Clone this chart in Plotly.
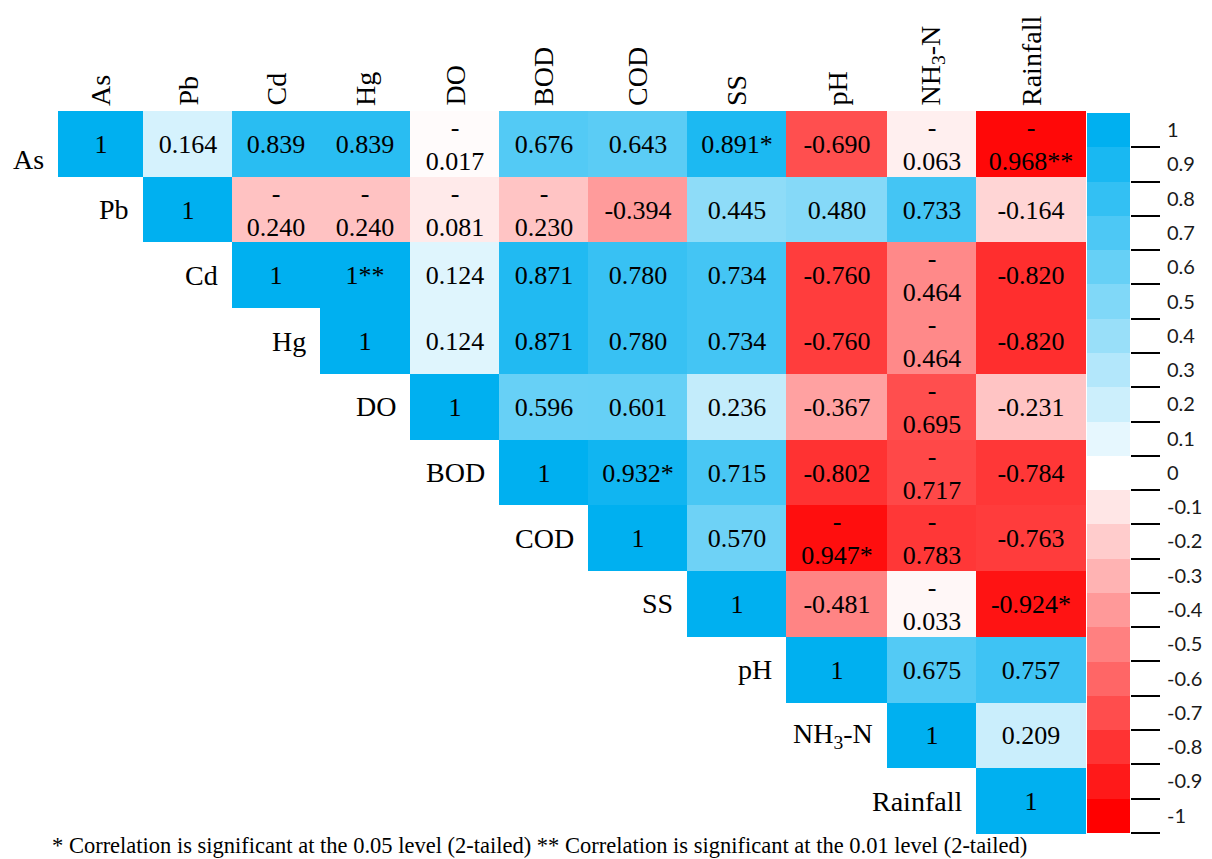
import plotly.graph_objects as go

# ---------------- data ----------------
VARIABLES = ["As", "Pb", "Cd", "Hg", "DO", "BOD", "COD", "SS", "pH",
             "NH<sub>3</sub>-N", "Rainfall"]

# upper-triangle rows (starting at the diagonal)
R_AS = [1, 0.164, 0.839, 0.839, -0.017, 0.676, 0.643, 0.891, -0.690, -0.063, -0.968]
R_PB = [1, -0.240, -0.240, -0.081, -0.230, -0.394, 0.445, 0.480, 0.733, -0.164]
R_CD = [1, 1, 0.124, 0.871, 0.780, 0.734, -0.760, -0.464, -0.820]
R_HG = [1, 0.124, 0.871, 0.780, 0.734, -0.760, -0.464, -0.820]
R_DO = [1, 0.596, 0.601, 0.236, -0.367, -0.695, -0.231]
R_BOD = [1, 0.932, 0.715, -0.802, -0.717, -0.784]
R_COD = [1, 0.570, -0.947, -0.783, -0.763]
R_SS = [1, -0.481, -0.033, -0.924]
R_PH = [1, 0.675, 0.757]
R_NH3 = [1, 0.209]
R_RAIN = [1]
ROWS = [R_AS, R_PB, R_CD, R_HG, R_DO, R_BOD, R_COD, R_SS, R_PH, R_NH3, R_RAIN]

# significance marks: (row index, column index) -> stars
SIGNIFICANCE = {(0, 7): "*", (0, 10): "**", (2, 3): "**", (5, 6): "*",
                (6, 8): "*", (7, 10): "*"}

COLORBAR_STEPS = [1, 0.9, 0.8, 0.7, 0.6, 0.5, 0.4, 0.3, 0.2, 0.1, 0,
                  -0.1, -0.2, -0.3, -0.4, -0.5, -0.6, -0.7, -0.8, -0.9, -1]
COLORBAR_LABELS = ["1", "0.9", "0.8", "0.7", "0.6", "0.5", "0.4", "0.3", "0.2", "0.1", "0",
                   "-0.1", "-0.2", "-0.3", "-0.4", "-0.5", "-0.6", "-0.7", "-0.8", "-0.9", "-1"]

FOOTNOTE = ("* Correlation is significant at the 0.05 level (2-tailed) "
            "** Correlation is significant at the 0.01 level (2-tailed)")

# ---------------- layout constants (page pixels) ----------------
W, H = 1212, 859
OFF = 8  # page body margin
COL_EDGES = [58, 143, 232, 320, 410, 499, 588, 687, 786, 887, 976, 1086]
ROW_TOP, ROW_BOTTOM = 111, 834
CB_X0, CB_X1, CB_Y0, CB_Y1 = 1087, 1130, 113, 833
SERIF = "Liberation Serif"
CELL_FONT = 26
LABEL_FONT = 28
COLORSCALE = [[0.0, "#ff0000"], [0.5, "#ffffff"], [1.0, "#00b0f0"]]

n = len(VARIABLES)
row_h = (ROW_BOTTOM - ROW_TOP) / n
ROW_EDGES = [ROW_TOP + i * row_h for i in range(n + 1)]
col_w = [COL_EDGES[j + 1] - COL_EDGES[j] for j in range(n)]


def fmt(v):
    return "1" if v == 1 else f"{v:.3f}"


z, text = [], []
for i in range(n):
    zr, tr = [], []
    for j in range(n):
        if j < i:
            zr.append(None)
            tr.append("")
            continue
        v = ROWS[i][j - i]
        s = fmt(v) + SIGNIFICANCE.get((i, j), "")
        # cell text wraps after the minus sign when it is too wide for the column
        if s.startswith("-") and len(s) * 15 >= col_w[j]:
            s = "-<br>" + s[1:]
        zr.append(v)
        tr.append(s)
    z.append(zr)
    text.append(tr)

fig = go.Figure()
fig.add_trace(go.Heatmap(
    z=z, x=COL_EDGES, y=ROW_EDGES, text=text, texttemplate="%{text}",
    textfont=dict(family=SERIF, size=CELL_FONT, color="black"),
    colorscale=COLORSCALE, zmin=-1, zmax=1, showscale=False,
    hoverinfo="skip", xgap=0, ygap=0,
))

# discrete colour key
fig.add_trace(go.Heatmap(
    z=[[v] for v in COLORBAR_STEPS], x=[0], y=COLORBAR_STEPS,
    colorscale=COLORSCALE, zmin=-1, zmax=1, showscale=False,
    hoverinfo="skip", xaxis="x2", yaxis="y2",
))

annotations = []
# column headers
for j, name in enumerate(VARIABLES):
    annotations.append(dict(
        x=(COL_EDGES[j] + COL_EDGES[j + 1]) / 2, y=108, xref="x", yref="y",
        text=name, textangle=-90, showarrow=False, xanchor="center", yanchor="bottom",
        font=dict(family=SERIF, size=LABEL_FONT, color="black"),
    ))
# row labels placed left of the diagonal
for i, name in enumerate(VARIABLES):
    yc = (ROW_EDGES[i] + ROW_EDGES[i + 1]) / 2 + (16 if i == 0 else 0)
    annotations.append(dict(
        x=COL_EDGES[i] - 12, y=yc, xref="x", yref="y", text=name,
        showarrow=False, xanchor="right", yanchor="middle",
        font=dict(family=SERIF, size=LABEL_FONT, color="black"),
    ))
annotations.append(dict(
    x=50, y=845, xref="x", yref="y", text=FOOTNOTE, showarrow=False,
    xanchor="left", yanchor="middle",
    font=dict(family=SERIF, size=22.5, color="black"),
))

boundaries = [round(v - 0.05, 2) for v in COLORBAR_STEPS]
FW, FH = W - OFF, H - OFF

fig.update_layout(
    width=FW, height=FH, margin=dict(l=0, r=0, t=0, b=0),
    paper_bgcolor="white", plot_bgcolor="white", showlegend=False,
    xaxis=dict(domain=[0, 1], range=[OFF, W], visible=False, fixedrange=True),
    yaxis=dict(domain=[0, 1], range=[H, OFF], visible=False, fixedrange=True),
    xaxis2=dict(domain=[(CB_X0 - OFF) / FW, (CB_X1 - OFF) / FW], anchor="y2",
                range=[-0.5, 0.5], visible=False),
    yaxis2=dict(domain=[1 - (CB_Y1 - OFF) / FH, 1 - (CB_Y0 - OFF) / FH], anchor="x2",
                side="right", range=[-1.0505, 1.05], tickmode="array",
                tickvals=COLORBAR_STEPS, ticktext=COLORBAR_LABELS, ticks="",
                showline=False, showgrid=False, zeroline=False, ticklabelstandoff=36,
                tickfont=dict(family="Lato", size=20, color="#1a1a1a"),
                minor=dict(tickmode="array", tickvals=boundaries, ticks="outside",
                           ticklen=29, tickwidth=2, tickcolor="black", showgrid=False)),
    annotations=annotations,
)

fig.write_html("out.html")
